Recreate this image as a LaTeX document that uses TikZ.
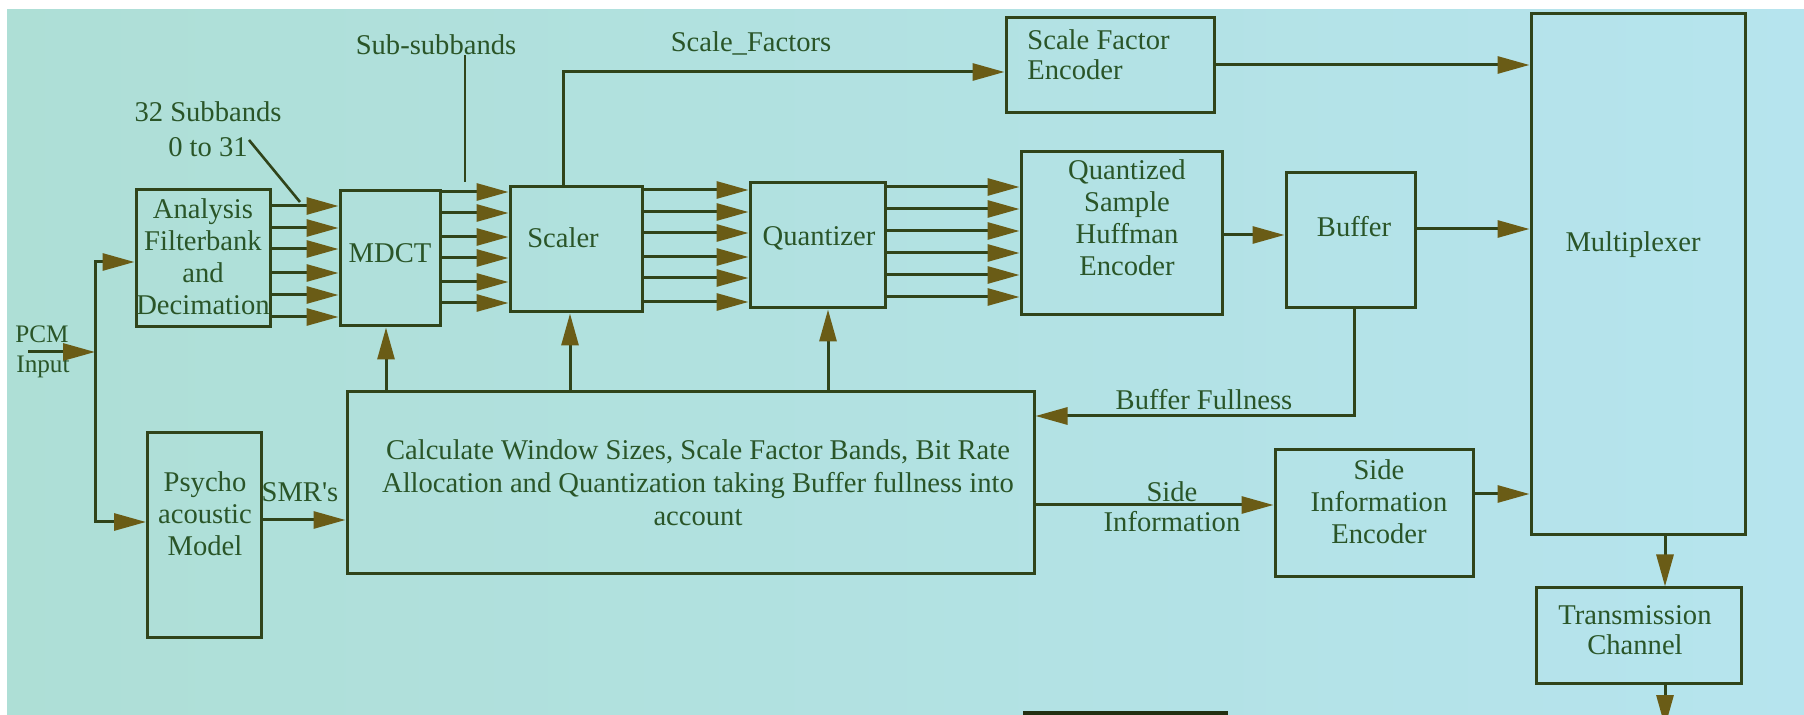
\documentclass[tikz,border=0pt]{standalone}
\usepackage{fontspec}
\setmainfont{Liberation Serif}
\usetikzlibrary{arrows.meta}
\definecolor{bgL}{HTML}{AEDFD6}
\definecolor{bgR}{HTML}{B6E4EE}
\definecolor{ink}{HTML}{2A5528}
\definecolor{wire}{HTML}{30441A}
\definecolor{tipc}{HTML}{6A5C16}

\begin{document}
\begin{tikzpicture}[x=0.5pt,y=-0.5pt,
  box/.style={draw=wire, line width=1.5pt, inner sep=0pt},
  txt/.style={text=ink, font=\fontsize{14.3}{16}\selectfont, align=center, inner sep=0pt},
  smalltxt/.style={txt, font=\fontsize{12.6}{14}\selectfont},
  wireline/.style={draw=wire, line width=1.5pt},
  pointer/.style={draw=wire, line width=1.3pt},
  arr/.style={wireline, -{Triangle[length=16pt, width=8.5pt, color=tipc]}},
]
\useasboundingbox (0,0) rectangle (1804,715);
\clip (0,0) rectangle (1804,715);
% paper and projected slide area
\fill[white] (0,0) rectangle (1804,715);
\shade[left color=bgL, right color=bgR] (7,10) rectangle (1804,715);

% blocks
\node[box, minimum width=67pt,    minimum height=68.5pt] (ana)  at (203,258.5) {};
\node[box, minimum width=50pt,    minimum height=67.5pt] (mdct) at (390,258.5) {};
\node[box, minimum width=66pt,    minimum height=62.5pt] (scal) at (576,249.5) {};
\node[box, minimum width=67.5pt,  minimum height=62.5pt] (quan) at (817.5,245.5) {};
\node[box, minimum width=100.5pt, minimum height=81.5pt] (qshe) at (1121.5,233.5) {};
\node[box, minimum width=64.5pt,  minimum height=67.5pt] (buf)  at (1350.5,240.5) {};
\node[box, minimum width=104pt,   minimum height=47.5pt] (sfe)  at (1110,65.5) {};
\node[box, minimum width=107pt,   minimum height=260.5pt] (mux) at (1638,274.5) {};
\node[box, minimum width=102.5pt, minimum height=47.5pt] (tc)   at (1638.5,635.5) {};
\node[box, minimum width=99pt,    minimum height=63.5pt] (sie)  at (1374,513.5) {};
\node[box, minimum width=343.5pt, minimum height=91pt]   (calc) at (690.5,483) {};
\node[box, minimum width=57pt,    minimum height=102pt]  (psy)  at (204.5,535) {};

% block texts
\node[txt] (t-ana)  at (203,256.5) {Analysis\\Filterbank\\and\\Decimation};
\node[txt] (t-mdct) at (390,253) {MDCT};
\node[txt] (t-scal) at (563,238) {Scaler};
\node[txt] (t-quan) at (819,238) {Quantizer};
\node[txt] (t-qshe) at (1127,218) {Quantized\\Sample\\Huffman\\Encoder};
\node[txt] (t-buf)  at (1354,227) {Buffer};
\node[txt, align=left, anchor=west, font=\fontsize{14.3}{15}\selectfont] (t-sfe) at (1027,55) {Scale Factor\\Encoder};
\node[txt] (t-mux)  at (1633,245) {Multiplexer};
\node[txt, font=\fontsize{14.3}{15}\selectfont] (t-tc) at (1635,630) {Transmission\\Channel};
\node[txt] (t-sie)  at (1379,502) {Side\\Information\\Encoder};
\node[txt, font=\fontsize{14.3}{16.5}\selectfont] (t-calc) at (698,483)
  {Calculate Window Sizes, Scale Factor Bands, Bit Rate\\Allocation and Quantization taking Buffer fullness into\\account};
\node[txt] (t-psy)  at (205,514) {Psycho\\acoustic\\Model};

% signal labels
\node[txt, font=\fontsize{14.3}{17.5}\selectfont] (t-sub32) at (208,129.5) {32 Subbands\\0 to 31};
\node[txt] (t-subsub) at (436,45) {Sub-subbands};
\node[txt] (t-sf)     at (751,43) {Scale\_Factors};
\node[smalltxt] (t-pcm)   at (42,334) {PCM};
\node[smalltxt] (t-input) at (43,367) {Input};
\node[txt] (t-smr)    at (300,492) {SMR\textquotesingle s};
\node[txt] (t-bf)     at (1204,400) {Buffer Fullness};
\node[txt, font=\fontsize{14.3}{15}\selectfont] (t-side) at (1172,507) {Side\\Information};

% free ends
\coordinate (pcmin) at (28,352);
\coordinate (split) at (95,352);
\coordinate (sbStart) at (249,140);
\coordinate (sbEnd) at (300,202);
\coordinate (ssEnd) at (465,182);
\coordinate (out) at (1665,727);

% input distribution
\draw[arr] (pcmin) -- (split);
\draw[arr] (split) |- (ana.west |- 0,262);
\draw[arr] (split) |- (psy.west |- 0,522);

% parallel band paths
\foreach \y in {206,228,249,273,295,317}
  \draw[arr] (ana.east |- 0,\y) -- (mdct.west |- 0,\y);
\foreach \y in {192,213,237,258,282,303}
  \draw[arr] (mdct.east |- 0,\y) -- (scal.west |- 0,\y);
\foreach \y in {190,212,233,257,278,302}
  \draw[arr] (scal.east |- 0,\y) -- (quan.west |- 0,\y);
\foreach \y in {187,209,231,253,275,297}
  \draw[arr] (quan.east |- 0,\y) -- (qshe.west |- 0,\y);

% label pointers
\draw[pointer] (sbStart) -- (sbEnd);
\draw[pointer] (t-subsub.south -| ssEnd) -- (ssEnd);

% control from the allocation block
\draw[arr] (calc.north -| 386,0) -- (mdct.south -| 386,0);
\draw[arr] (calc.north -| 570,0) -- (scal.south -| 570,0);
\draw[arr] (calc.north -| 828,0) -- (quan.south -| 828,0);
\draw[arr] (psy.east |- 0,520) -- (calc.west |- 0,520);

% scale factors and bitstream
\draw[arr] (scal.north -| 563,0) |- (sfe.west |- 0,72);
\draw[arr] (sfe.east |- 0,65) -- (mux.west |- 0,65);
\draw[arr] (qshe.east |- 0,235) -- (buf.west |- 0,235);
\draw[arr] (buf.east |- 0,229) -- (mux.west |- 0,229);
\draw[arr] (buf.south -| 1354,0) |- (calc.east |- 0,416);
\draw[arr] (calc.east |- 0,505) -- (sie.west |- 0,505);
\draw[arr] (sie.east |- 0,494) -- (mux.west |- 0,494);
\draw[arr] (mux.south -| 1665,0) -- (tc.north -| 1665,0);
\draw[arr] (tc.south -| 1665,0) -- (out);

% edge of the page behind the slide
\fill[wire!70!black] (1023,711) rectangle (1228,716);
\end{tikzpicture}
\end{document}
